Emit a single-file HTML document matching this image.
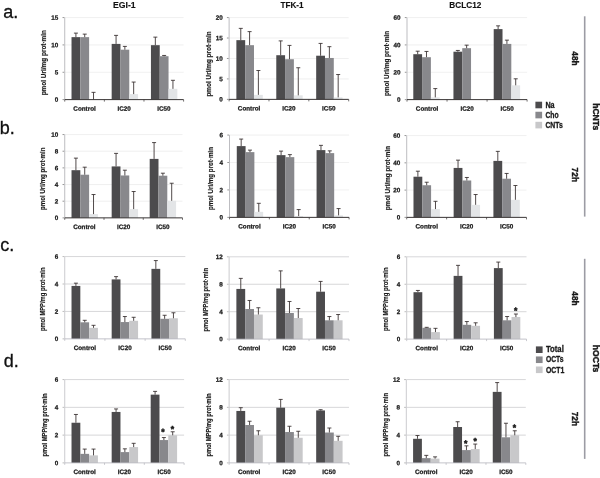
<!DOCTYPE html>
<html lang="en">
<head>
<meta charset="utf-8">
<title>Figure</title>
<style>
html,body{margin:0;padding:0;background:#fff;}
body{width:600px;height:478px;overflow:hidden;}
svg{display:block;}
text{font-family:"Liberation Sans",sans-serif;font-weight:bold;fill:#1a1a1a;stroke:#1a1a1a;stroke-width:0.15px;}
.tk{font-size:6.3px;stroke-width:0.25px;}
.ct{font-size:6.3px;stroke-width:0.25px;}
.yl{font-size:6.3px;}
.ti{font-size:9.2px;fill:#111;}
.pl{font-size:18px;font-weight:normal;fill:#111;stroke:#111;stroke-width:0.3px;}
.hr{font-size:8.4px;stroke-width:0.4px;}
.hg{font-size:8.6px;stroke-width:0.4px;}
.lg{font-size:8.2px;stroke-width:0.3px;}
.st{font-size:8.6px;stroke-width:0.5px;}
</style>
</head>
<body>
<svg width="600" height="478" viewBox="0 0 600 478">
<rect x="0" y="0" width="600" height="478" fill="#ffffff"/>
<g>
<line x1="64.74" y1="17.57" x2="183.6" y2="17.57" stroke="#e9e9e9" stroke-width="0.7"/>
<line x1="62.54" y1="17.57" x2="64.44" y2="17.57" stroke="#6a6a6a" stroke-width="0.7"/>
<text class="tk" transform="translate(58.34 19.82) rotate(0.03)" text-anchor="end">15</text>
<line x1="64.74" y1="44.92" x2="183.6" y2="44.92" stroke="#e9e9e9" stroke-width="0.7"/>
<line x1="62.54" y1="44.92" x2="64.44" y2="44.92" stroke="#6a6a6a" stroke-width="0.7"/>
<text class="tk" transform="translate(58.34 47.17) rotate(0.03)" text-anchor="end">10</text>
<line x1="64.74" y1="72.27" x2="183.6" y2="72.27" stroke="#e9e9e9" stroke-width="0.7"/>
<line x1="62.54" y1="72.27" x2="64.44" y2="72.27" stroke="#6a6a6a" stroke-width="0.7"/>
<text class="tk" transform="translate(58.34 74.52) rotate(0.03)" text-anchor="end">5</text>
<line x1="62.54" y1="99.62" x2="64.44" y2="99.62" stroke="#6a6a6a" stroke-width="0.7"/>
<text class="tk" transform="translate(58.34 101.87) rotate(0.03)" text-anchor="end">0</text>
<rect x="71.52" y="37.14" width="8.8" height="62.48" fill="#4c4b4d"/>
<path d="M75.92 37.14V33.12M73.92 33.12H77.92" stroke="#332a2a" stroke-width="0.85" fill="none"/>
<rect x="80.32" y="37.14" width="8.8" height="62.48" fill="#88888c"/>
<path d="M84.72 37.14V34.13M82.72 34.13H86.72" stroke="#332a2a" stroke-width="0.85" fill="none"/>
<path d="M93.52 99.62V92.35M91.52 92.35H95.52" stroke="#332a2a" stroke-width="0.85" fill="none"/>
<rect x="111.67" y="43.91" width="8.8" height="55.71" fill="#4c4b4d"/>
<path d="M116.07 43.91V35.38M114.07 35.38H118.07" stroke="#332a2a" stroke-width="0.85" fill="none"/>
<rect x="120.47" y="49.69" width="8.8" height="49.94" fill="#88888c"/>
<path d="M124.87 49.69V46.42M122.87 46.42H126.87" stroke="#332a2a" stroke-width="0.85" fill="none"/>
<rect x="129.27" y="94.1" width="8.8" height="5.52" fill="#e3e5e7"/>
<path d="M133.67 94.1V82.06M131.67 82.06H135.67" stroke="#332a2a" stroke-width="0.85" fill="none"/>
<rect x="150.94" y="45.17" width="8.8" height="54.45" fill="#4c4b4d"/>
<path d="M155.34 45.17V37.14M153.34 37.14H157.34" stroke="#332a2a" stroke-width="0.85" fill="none"/>
<rect x="159.74" y="56.21" width="8.8" height="43.41" fill="#88888c"/>
<path d="M164.14 56.21V55.46M162.14 55.46H166.14" stroke="#332a2a" stroke-width="0.85" fill="none"/>
<rect x="168.54" y="88.83" width="8.8" height="10.79" fill="#e3e5e7"/>
<path d="M172.94 88.83V80.3M170.94 80.3H174.94" stroke="#332a2a" stroke-width="0.85" fill="none"/>
<line x1="64.74" y1="17.57" x2="64.74" y2="99.62" stroke="#bdbdc1" stroke-width="1"/>
<line x1="64.74" y1="99.62" x2="183.6" y2="99.62" stroke="#383434" stroke-width="1"/>
<line x1="64.74" y1="99.62" x2="64.74" y2="101.62" stroke="#383434" stroke-width="0.7"/>
<line x1="104.36" y1="99.62" x2="104.36" y2="101.62" stroke="#383434" stroke-width="0.7"/>
<line x1="143.98" y1="99.62" x2="143.98" y2="101.62" stroke="#383434" stroke-width="0.7"/>
<line x1="183.6" y1="99.62" x2="183.6" y2="101.62" stroke="#383434" stroke-width="0.7"/>
<text class="ct" transform="translate(84.55 110.82) rotate(0.03)" text-anchor="middle">Control</text>
<text class="ct" transform="translate(124.17 110.82) rotate(0.03)" text-anchor="middle">IC20</text>
<text class="ct" transform="translate(163.79 110.82) rotate(0.03)" text-anchor="middle">IC50</text>
<text class="yl" transform="translate(46.4 95.3) rotate(-90)" textLength="65.3" lengthAdjust="spacingAndGlyphs">pmol Uri/mg prot·min</text>
</g>
<g>
<line x1="229.11" y1="17.57" x2="348.7" y2="17.57" stroke="#e9e9e9" stroke-width="0.7"/>
<line x1="226.91" y1="17.57" x2="228.81" y2="17.57" stroke="#6a6a6a" stroke-width="0.7"/>
<text class="tk" transform="translate(222.71 19.82) rotate(0.03)" text-anchor="end">20</text>
<line x1="229.11" y1="38.02" x2="348.7" y2="38.02" stroke="#e9e9e9" stroke-width="0.7"/>
<line x1="226.91" y1="38.02" x2="228.81" y2="38.02" stroke="#6a6a6a" stroke-width="0.7"/>
<text class="tk" transform="translate(222.71 40.27) rotate(0.03)" text-anchor="end">15</text>
<line x1="229.11" y1="58.47" x2="348.7" y2="58.47" stroke="#e9e9e9" stroke-width="0.7"/>
<line x1="226.91" y1="58.47" x2="228.81" y2="58.47" stroke="#6a6a6a" stroke-width="0.7"/>
<text class="tk" transform="translate(222.71 60.72) rotate(0.03)" text-anchor="end">10</text>
<line x1="229.11" y1="78.92" x2="348.7" y2="78.92" stroke="#e9e9e9" stroke-width="0.7"/>
<line x1="226.91" y1="78.92" x2="228.81" y2="78.92" stroke="#6a6a6a" stroke-width="0.7"/>
<text class="tk" transform="translate(222.71 81.17) rotate(0.03)" text-anchor="end">5</text>
<line x1="226.91" y1="99.37" x2="228.81" y2="99.37" stroke="#6a6a6a" stroke-width="0.7"/>
<text class="tk" transform="translate(222.71 101.62) rotate(0.03)" text-anchor="end">0</text>
<rect x="236.38" y="40.15" width="8.8" height="59.22" fill="#4c4b4d"/>
<path d="M240.78 40.15V28.36M238.78 28.36H242.78" stroke="#332a2a" stroke-width="0.85" fill="none"/>
<rect x="245.18" y="45.17" width="8.8" height="54.2" fill="#88888c"/>
<path d="M249.58 45.17V31.62M247.58 31.62H251.58" stroke="#332a2a" stroke-width="0.85" fill="none"/>
<rect x="253.98" y="94.86" width="8.8" height="4.52" fill="#e3e5e7"/>
<path d="M258.38 94.86V70.51M256.38 70.51H260.38" stroke="#332a2a" stroke-width="0.85" fill="none"/>
<rect x="276.28" y="55.21" width="8.8" height="44.17" fill="#4c4b4d"/>
<path d="M280.68 55.21V40.9M278.68 40.9H282.68" stroke="#332a2a" stroke-width="0.85" fill="none"/>
<rect x="285.08" y="59.22" width="8.8" height="40.15" fill="#88888c"/>
<path d="M289.48 59.22V45.42M287.48 45.42H291.48" stroke="#332a2a" stroke-width="0.85" fill="none"/>
<rect x="293.88" y="95.36" width="8.8" height="4.02" fill="#e3e5e7"/>
<path d="M298.28 95.36V67.75M296.28 67.75H300.28" stroke="#332a2a" stroke-width="0.85" fill="none"/>
<rect x="316.18" y="55.71" width="8.8" height="43.66" fill="#4c4b4d"/>
<path d="M320.58 55.71V43.41M318.58 43.41H322.58" stroke="#332a2a" stroke-width="0.85" fill="none"/>
<rect x="324.98" y="57.97" width="8.8" height="41.41" fill="#88888c"/>
<path d="M329.38 57.97V46.68M327.38 46.68H331.38" stroke="#332a2a" stroke-width="0.85" fill="none"/>
<rect x="333.78" y="97.37" width="8.8" height="2.01" fill="#e3e5e7"/>
<path d="M338.18 97.37V74.53M336.18 74.53H340.18" stroke="#332a2a" stroke-width="0.85" fill="none"/>
<line x1="229.11" y1="17.57" x2="229.11" y2="99.37" stroke="#bdbdc1" stroke-width="1"/>
<line x1="229.11" y1="99.37" x2="348.7" y2="99.37" stroke="#383434" stroke-width="1"/>
<line x1="229.11" y1="99.37" x2="229.11" y2="101.37" stroke="#383434" stroke-width="0.7"/>
<line x1="268.97" y1="99.37" x2="268.97" y2="101.37" stroke="#383434" stroke-width="0.7"/>
<line x1="308.84" y1="99.37" x2="308.84" y2="101.37" stroke="#383434" stroke-width="0.7"/>
<line x1="348.7" y1="99.37" x2="348.7" y2="101.37" stroke="#383434" stroke-width="0.7"/>
<text class="ct" transform="translate(249.04 110.57) rotate(0.03)" text-anchor="middle">Control</text>
<text class="ct" transform="translate(288.9 110.57) rotate(0.03)" text-anchor="middle">IC20</text>
<text class="ct" transform="translate(328.77 110.57) rotate(0.03)" text-anchor="middle">IC50</text>
<text class="yl" transform="translate(210.9 96.6) rotate(-90)" textLength="65.2" lengthAdjust="spacingAndGlyphs">pmol Uri/mg prot·min</text>
</g>
<g>
<line x1="407.01" y1="17.57" x2="527.1" y2="17.57" stroke="#e9e9e9" stroke-width="0.7"/>
<line x1="404.81" y1="17.57" x2="406.71" y2="17.57" stroke="#6a6a6a" stroke-width="0.7"/>
<text class="tk" transform="translate(400.61 19.82) rotate(0.03)" text-anchor="end">60</text>
<line x1="407.01" y1="44.92" x2="527.1" y2="44.92" stroke="#e9e9e9" stroke-width="0.7"/>
<line x1="404.81" y1="44.92" x2="406.71" y2="44.92" stroke="#6a6a6a" stroke-width="0.7"/>
<text class="tk" transform="translate(400.61 47.17) rotate(0.03)" text-anchor="end">40</text>
<line x1="407.01" y1="72.27" x2="527.1" y2="72.27" stroke="#e9e9e9" stroke-width="0.7"/>
<line x1="404.81" y1="72.27" x2="406.71" y2="72.27" stroke="#6a6a6a" stroke-width="0.7"/>
<text class="tk" transform="translate(400.61 74.52) rotate(0.03)" text-anchor="end">20</text>
<line x1="404.81" y1="99.62" x2="406.71" y2="99.62" stroke="#6a6a6a" stroke-width="0.7"/>
<text class="tk" transform="translate(400.61 101.87) rotate(0.03)" text-anchor="end">0</text>
<rect x="413.29" y="54.2" width="8.8" height="45.42" fill="#4c4b4d"/>
<path d="M417.69 54.2V51.19M415.69 51.19H419.69" stroke="#332a2a" stroke-width="0.85" fill="none"/>
<rect x="422.09" y="57.21" width="8.8" height="42.41" fill="#88888c"/>
<path d="M426.49 57.21V51.44M424.49 51.44H428.49" stroke="#332a2a" stroke-width="0.85" fill="none"/>
<rect x="430.89" y="97.37" width="8.8" height="2.26" fill="#e3e5e7"/>
<path d="M435.29 97.37V88.58M433.29 88.58H437.29" stroke="#332a2a" stroke-width="0.85" fill="none"/>
<rect x="453.44" y="51.69" width="8.8" height="47.93" fill="#4c4b4d"/>
<path d="M457.84 51.69V50.44M455.84 50.44H459.84" stroke="#332a2a" stroke-width="0.85" fill="none"/>
<rect x="462.24" y="48.18" width="8.8" height="51.44" fill="#88888c"/>
<path d="M466.64 48.18V45.17M464.64 45.17H468.64" stroke="#332a2a" stroke-width="0.85" fill="none"/>
<rect x="493.71" y="29.11" width="8.8" height="70.51" fill="#4c4b4d"/>
<path d="M498.11 29.11V25.85M496.11 25.85H500.11" stroke="#332a2a" stroke-width="0.85" fill="none"/>
<rect x="502.51" y="43.91" width="8.8" height="55.71" fill="#88888c"/>
<path d="M506.91 43.91V40.15M504.91 40.15H508.91" stroke="#332a2a" stroke-width="0.85" fill="none"/>
<rect x="511.31" y="85.32" width="8.8" height="14.3" fill="#e3e5e7"/>
<path d="M515.71 85.32V78.8M513.71 78.8H517.71" stroke="#332a2a" stroke-width="0.85" fill="none"/>
<line x1="407.01" y1="17.57" x2="407.01" y2="99.62" stroke="#bdbdc1" stroke-width="1"/>
<line x1="407.01" y1="99.62" x2="527.1" y2="99.62" stroke="#383434" stroke-width="1"/>
<line x1="407.01" y1="99.62" x2="407.01" y2="101.62" stroke="#383434" stroke-width="0.7"/>
<line x1="447.04" y1="99.62" x2="447.04" y2="101.62" stroke="#383434" stroke-width="0.7"/>
<line x1="487.07" y1="99.62" x2="487.07" y2="101.62" stroke="#383434" stroke-width="0.7"/>
<line x1="527.1" y1="99.62" x2="527.1" y2="101.62" stroke="#383434" stroke-width="0.7"/>
<text class="ct" transform="translate(427.03 110.82) rotate(0.03)" text-anchor="middle">Control</text>
<text class="ct" transform="translate(467.06 110.82) rotate(0.03)" text-anchor="middle">IC20</text>
<text class="ct" transform="translate(507.09 110.82) rotate(0.03)" text-anchor="middle">IC50</text>
<text class="yl" transform="translate(388.9 96.1) rotate(-90)" textLength="65.2" lengthAdjust="spacingAndGlyphs">pmol Uri/mg prot·min</text>
</g>
<g>
<line x1="64.74" y1="134.55" x2="182.5" y2="134.55" stroke="#e9e9e9" stroke-width="0.7"/>
<line x1="62.54" y1="134.55" x2="64.44" y2="134.55" stroke="#6a6a6a" stroke-width="0.7"/>
<text class="tk" transform="translate(58.34 136.8) rotate(0.03)" text-anchor="end">10</text>
<line x1="64.74" y1="151.22" x2="182.5" y2="151.22" stroke="#e9e9e9" stroke-width="0.7"/>
<line x1="62.54" y1="151.22" x2="64.44" y2="151.22" stroke="#6a6a6a" stroke-width="0.7"/>
<text class="tk" transform="translate(58.34 153.47) rotate(0.03)" text-anchor="end">8</text>
<line x1="64.74" y1="167.88" x2="182.5" y2="167.88" stroke="#e9e9e9" stroke-width="0.7"/>
<line x1="62.54" y1="167.88" x2="64.44" y2="167.88" stroke="#6a6a6a" stroke-width="0.7"/>
<text class="tk" transform="translate(58.34 170.13) rotate(0.03)" text-anchor="end">6</text>
<line x1="64.74" y1="184.54" x2="182.5" y2="184.54" stroke="#e9e9e9" stroke-width="0.7"/>
<line x1="62.54" y1="184.54" x2="64.44" y2="184.54" stroke="#6a6a6a" stroke-width="0.7"/>
<text class="tk" transform="translate(58.34 186.79) rotate(0.03)" text-anchor="end">4</text>
<line x1="64.74" y1="201.2" x2="182.5" y2="201.2" stroke="#e9e9e9" stroke-width="0.7"/>
<line x1="62.54" y1="201.2" x2="64.44" y2="201.2" stroke="#6a6a6a" stroke-width="0.7"/>
<text class="tk" transform="translate(58.34 203.45) rotate(0.03)" text-anchor="end">2</text>
<line x1="62.54" y1="217.87" x2="64.44" y2="217.87" stroke="#6a6a6a" stroke-width="0.7"/>
<text class="tk" transform="translate(58.34 220.12) rotate(0.03)" text-anchor="end">0</text>
<rect x="71.52" y="170.19" width="8.8" height="47.68" fill="#4c4b4d"/>
<path d="M75.92 170.19V158.14M73.92 158.14H77.92" stroke="#332a2a" stroke-width="0.85" fill="none"/>
<rect x="80.32" y="174.71" width="8.8" height="43.16" fill="#88888c"/>
<path d="M84.72 174.71V167.18M82.72 167.18H86.72" stroke="#332a2a" stroke-width="0.85" fill="none"/>
<rect x="89.12" y="214.1" width="8.8" height="3.76" fill="#e3e5e7"/>
<path d="M93.52 214.1V194.53M91.52 194.53H95.52" stroke="#332a2a" stroke-width="0.85" fill="none"/>
<rect x="111.67" y="166.42" width="8.8" height="51.44" fill="#4c4b4d"/>
<path d="M116.07 166.42V153.38M114.07 153.38H118.07" stroke="#332a2a" stroke-width="0.85" fill="none"/>
<rect x="120.47" y="175.46" width="8.8" height="42.41" fill="#88888c"/>
<path d="M124.87 175.46V170.19M122.87 170.19H126.87" stroke="#332a2a" stroke-width="0.85" fill="none"/>
<rect x="129.27" y="209.08" width="8.8" height="8.78" fill="#e3e5e7"/>
<path d="M133.67 209.08V191.52M131.67 191.52H135.67" stroke="#332a2a" stroke-width="0.85" fill="none"/>
<rect x="149.69" y="158.9" width="8.8" height="58.97" fill="#4c4b4d"/>
<path d="M154.09 158.9V142.58M152.09 142.58H156.09" stroke="#332a2a" stroke-width="0.85" fill="none"/>
<rect x="158.49" y="175.71" width="8.8" height="42.16" fill="#88888c"/>
<path d="M162.89 175.71V173.2M160.89 173.2H164.89" stroke="#332a2a" stroke-width="0.85" fill="none"/>
<rect x="167.29" y="200.8" width="8.8" height="17.06" fill="#e3e5e7"/>
<path d="M171.69 200.8V183.24M169.69 183.24H173.69" stroke="#332a2a" stroke-width="0.85" fill="none"/>
<line x1="64.74" y1="134.55" x2="64.74" y2="217.87" stroke="#bdbdc1" stroke-width="1"/>
<line x1="64.74" y1="217.87" x2="182.5" y2="217.87" stroke="#383434" stroke-width="1"/>
<line x1="64.74" y1="217.87" x2="64.74" y2="219.87" stroke="#383434" stroke-width="0.7"/>
<line x1="104" y1="217.87" x2="104" y2="219.87" stroke="#383434" stroke-width="0.7"/>
<line x1="143.25" y1="217.87" x2="143.25" y2="219.87" stroke="#383434" stroke-width="0.7"/>
<line x1="182.5" y1="217.87" x2="182.5" y2="219.87" stroke="#383434" stroke-width="0.7"/>
<text class="ct" transform="translate(84.37 229.07) rotate(0.03)" text-anchor="middle">Control</text>
<text class="ct" transform="translate(123.62 229.07) rotate(0.03)" text-anchor="middle">IC20</text>
<text class="ct" transform="translate(162.87 229.07) rotate(0.03)" text-anchor="middle">IC50</text>
<text class="yl" transform="translate(44.6 210) rotate(-90)" textLength="62.5" lengthAdjust="spacingAndGlyphs">pmol Uri/mg prot·min</text>
</g>
<g>
<line x1="229.51" y1="135.06" x2="349.1" y2="135.06" stroke="#e9e9e9" stroke-width="0.7"/>
<line x1="227.31" y1="135.06" x2="229.21" y2="135.06" stroke="#6a6a6a" stroke-width="0.7"/>
<text class="tk" transform="translate(223.11 137.31) rotate(0.03)" text-anchor="end">6</text>
<line x1="229.51" y1="162.49" x2="349.1" y2="162.49" stroke="#e9e9e9" stroke-width="0.7"/>
<line x1="227.31" y1="162.49" x2="229.21" y2="162.49" stroke="#6a6a6a" stroke-width="0.7"/>
<text class="tk" transform="translate(223.11 164.74) rotate(0.03)" text-anchor="end">4</text>
<line x1="229.51" y1="189.93" x2="349.1" y2="189.93" stroke="#e9e9e9" stroke-width="0.7"/>
<line x1="227.31" y1="189.93" x2="229.21" y2="189.93" stroke="#6a6a6a" stroke-width="0.7"/>
<text class="tk" transform="translate(223.11 192.18) rotate(0.03)" text-anchor="end">2</text>
<line x1="227.31" y1="217.37" x2="229.21" y2="217.37" stroke="#6a6a6a" stroke-width="0.7"/>
<text class="tk" transform="translate(223.11 219.62) rotate(0.03)" text-anchor="end">0</text>
<rect x="236.78" y="146.1" width="8.8" height="71.27" fill="#4c4b4d"/>
<path d="M241.18 146.1V139.07M239.18 139.07H243.18" stroke="#332a2a" stroke-width="0.85" fill="none"/>
<rect x="245.58" y="152.12" width="8.8" height="65.24" fill="#88888c"/>
<path d="M249.98 152.12V150.11M247.98 150.11H251.98" stroke="#332a2a" stroke-width="0.85" fill="none"/>
<rect x="254.38" y="211.84" width="8.8" height="5.52" fill="#e3e5e7"/>
<path d="M258.78 211.84V203.31M256.78 203.31H260.78" stroke="#332a2a" stroke-width="0.85" fill="none"/>
<rect x="276.68" y="155.13" width="8.8" height="62.23" fill="#4c4b4d"/>
<path d="M281.08 155.13V151.12M279.08 151.12H283.08" stroke="#332a2a" stroke-width="0.85" fill="none"/>
<rect x="285.48" y="157.14" width="8.8" height="60.23" fill="#88888c"/>
<path d="M289.88 157.14V154.63M287.88 154.63H291.88" stroke="#332a2a" stroke-width="0.85" fill="none"/>
<rect x="294.28" y="216.11" width="8.8" height="1.25" fill="#e3e5e7"/>
<path d="M298.68 216.11V209.59M296.68 209.59H300.68" stroke="#332a2a" stroke-width="0.85" fill="none"/>
<rect x="316.58" y="150.11" width="8.8" height="67.25" fill="#4c4b4d"/>
<path d="M320.98 150.11V145.35M318.98 145.35H322.98" stroke="#332a2a" stroke-width="0.85" fill="none"/>
<rect x="325.38" y="153.12" width="8.8" height="64.24" fill="#88888c"/>
<path d="M329.78 153.12V150.87M327.78 150.87H331.78" stroke="#332a2a" stroke-width="0.85" fill="none"/>
<rect x="334.18" y="215.36" width="8.8" height="2.01" fill="#e3e5e7"/>
<path d="M338.58 215.36V208.58M336.58 208.58H340.58" stroke="#332a2a" stroke-width="0.85" fill="none"/>
<line x1="229.51" y1="135.06" x2="229.51" y2="217.37" stroke="#bdbdc1" stroke-width="1"/>
<line x1="229.51" y1="217.37" x2="349.1" y2="217.37" stroke="#383434" stroke-width="1"/>
<line x1="229.51" y1="217.37" x2="229.51" y2="219.37" stroke="#383434" stroke-width="0.7"/>
<line x1="269.37" y1="217.37" x2="269.37" y2="219.37" stroke="#383434" stroke-width="0.7"/>
<line x1="309.24" y1="217.37" x2="309.24" y2="219.37" stroke="#383434" stroke-width="0.7"/>
<line x1="349.1" y1="217.37" x2="349.1" y2="219.37" stroke="#383434" stroke-width="0.7"/>
<text class="ct" transform="translate(249.44 228.57) rotate(0.03)" text-anchor="middle">Control</text>
<text class="ct" transform="translate(289.3 228.57) rotate(0.03)" text-anchor="middle">IC20</text>
<text class="ct" transform="translate(329.17 228.57) rotate(0.03)" text-anchor="middle">IC50</text>
<text class="yl" transform="translate(212.6 210) rotate(-90)" textLength="63" lengthAdjust="spacingAndGlyphs">pmol Uri/mg prot·min</text>
</g>
<g>
<line x1="406.71" y1="135.56" x2="526.5" y2="135.56" stroke="#e9e9e9" stroke-width="0.7"/>
<line x1="404.51" y1="135.56" x2="406.41" y2="135.56" stroke="#6a6a6a" stroke-width="0.7"/>
<text class="tk" transform="translate(400.31 137.81) rotate(0.03)" text-anchor="end">60</text>
<line x1="406.71" y1="162.83" x2="526.5" y2="162.83" stroke="#e9e9e9" stroke-width="0.7"/>
<line x1="404.51" y1="162.83" x2="406.41" y2="162.83" stroke="#6a6a6a" stroke-width="0.7"/>
<text class="tk" transform="translate(400.31 165.08) rotate(0.03)" text-anchor="end">40</text>
<line x1="406.71" y1="190.1" x2="526.5" y2="190.1" stroke="#e9e9e9" stroke-width="0.7"/>
<line x1="404.51" y1="190.1" x2="406.41" y2="190.1" stroke="#6a6a6a" stroke-width="0.7"/>
<text class="tk" transform="translate(400.31 192.35) rotate(0.03)" text-anchor="end">20</text>
<line x1="404.51" y1="217.37" x2="406.41" y2="217.37" stroke="#6a6a6a" stroke-width="0.7"/>
<text class="tk" transform="translate(400.31 219.62) rotate(0.03)" text-anchor="end">0</text>
<rect x="413.49" y="176.71" width="8.8" height="40.65" fill="#4c4b4d"/>
<path d="M417.89 176.71V171.19M415.89 171.19H419.89" stroke="#332a2a" stroke-width="0.85" fill="none"/>
<rect x="422.29" y="185.24" width="8.8" height="32.12" fill="#88888c"/>
<path d="M426.69 185.24V182.23M424.69 182.23H428.69" stroke="#332a2a" stroke-width="0.85" fill="none"/>
<rect x="431.09" y="209.08" width="8.8" height="8.28" fill="#e3e5e7"/>
<path d="M435.49 209.08V201.3M433.49 201.3H437.49" stroke="#332a2a" stroke-width="0.85" fill="none"/>
<rect x="453.64" y="167.93" width="8.8" height="49.44" fill="#4c4b4d"/>
<path d="M458.04 167.93V160.15M456.04 160.15H460.04" stroke="#332a2a" stroke-width="0.85" fill="none"/>
<rect x="462.44" y="180.48" width="8.8" height="36.89" fill="#88888c"/>
<path d="M466.84 180.48V177.47M464.84 177.47H468.84" stroke="#332a2a" stroke-width="0.85" fill="none"/>
<rect x="471.24" y="204.82" width="8.8" height="12.55" fill="#e3e5e7"/>
<path d="M475.64 204.82V194.53M473.64 194.53H477.64" stroke="#332a2a" stroke-width="0.85" fill="none"/>
<rect x="493.41" y="160.9" width="8.8" height="56.46" fill="#4c4b4d"/>
<path d="M497.81 160.9V151.37M495.81 151.37H499.81" stroke="#332a2a" stroke-width="0.85" fill="none"/>
<rect x="502.21" y="178.72" width="8.8" height="38.64" fill="#88888c"/>
<path d="M506.61 178.72V173.45M504.61 173.45H508.61" stroke="#332a2a" stroke-width="0.85" fill="none"/>
<rect x="511.01" y="199.8" width="8.8" height="17.57" fill="#e3e5e7"/>
<path d="M515.41 199.8V185.5M513.41 185.5H517.41" stroke="#332a2a" stroke-width="0.85" fill="none"/>
<line x1="406.71" y1="135.56" x2="406.71" y2="217.37" stroke="#bdbdc1" stroke-width="1"/>
<line x1="406.71" y1="217.37" x2="526.5" y2="217.37" stroke="#383434" stroke-width="1"/>
<line x1="406.71" y1="217.37" x2="406.71" y2="219.37" stroke="#383434" stroke-width="0.7"/>
<line x1="446.64" y1="217.37" x2="446.64" y2="219.37" stroke="#383434" stroke-width="0.7"/>
<line x1="486.57" y1="217.37" x2="486.57" y2="219.37" stroke="#383434" stroke-width="0.7"/>
<line x1="526.5" y1="217.37" x2="526.5" y2="219.37" stroke="#383434" stroke-width="0.7"/>
<text class="ct" transform="translate(426.68 228.57) rotate(0.03)" text-anchor="middle">Control</text>
<text class="ct" transform="translate(466.61 228.57) rotate(0.03)" text-anchor="middle">IC20</text>
<text class="ct" transform="translate(506.54 228.57) rotate(0.03)" text-anchor="middle">IC50</text>
<text class="yl" transform="translate(390.1 210.3) rotate(-90)" textLength="64.4" lengthAdjust="spacingAndGlyphs">pmol Uri/mg prot·min</text>
</g>
<g>
<line x1="64.74" y1="256.56" x2="185.3" y2="256.56" stroke="#bcbcc0" stroke-width="0.6"/>
<line x1="62.54" y1="256.56" x2="64.44" y2="256.56" stroke="#a0a0a0" stroke-width="0.7"/>
<text class="tk" transform="translate(58.34 258.81) rotate(0.03)" text-anchor="end">6</text>
<line x1="64.74" y1="284" x2="185.3" y2="284" stroke="#bcbcc0" stroke-width="0.6"/>
<line x1="62.54" y1="284" x2="64.44" y2="284" stroke="#a0a0a0" stroke-width="0.7"/>
<text class="tk" transform="translate(58.34 286.25) rotate(0.03)" text-anchor="end">4</text>
<line x1="64.74" y1="311.43" x2="185.3" y2="311.43" stroke="#bcbcc0" stroke-width="0.6"/>
<line x1="62.54" y1="311.43" x2="64.44" y2="311.43" stroke="#a0a0a0" stroke-width="0.7"/>
<text class="tk" transform="translate(58.34 313.68) rotate(0.03)" text-anchor="end">2</text>
<line x1="62.54" y1="338.87" x2="64.44" y2="338.87" stroke="#a0a0a0" stroke-width="0.7"/>
<text class="tk" transform="translate(58.34 341.12) rotate(0.03)" text-anchor="end">0</text>
<rect x="71.52" y="285.92" width="8.8" height="52.95" fill="#4c4b4d"/>
<path d="M75.92 285.92V283.16M73.92 283.16H77.92" stroke="#332a2a" stroke-width="0.85" fill="none"/>
<rect x="80.32" y="322.31" width="8.8" height="16.56" fill="#88888c"/>
<path d="M84.72 322.31V320.3M82.72 320.3H86.72" stroke="#332a2a" stroke-width="0.85" fill="none"/>
<rect x="89.12" y="327.83" width="8.8" height="11.04" fill="#c8c8ca"/>
<path d="M93.52 327.83V325.32M91.52 325.32H95.52" stroke="#332a2a" stroke-width="0.85" fill="none"/>
<rect x="111.67" y="279.4" width="8.8" height="59.47" fill="#4c4b4d"/>
<path d="M116.07 279.4V276.64M114.07 276.64H118.07" stroke="#332a2a" stroke-width="0.85" fill="none"/>
<rect x="120.47" y="322.06" width="8.8" height="16.81" fill="#88888c"/>
<path d="M124.87 322.06V316.54M122.87 316.54H126.87" stroke="#332a2a" stroke-width="0.85" fill="none"/>
<rect x="129.27" y="320.8" width="8.8" height="18.07" fill="#c8c8ca"/>
<path d="M133.67 320.8V317.29M131.67 317.29H135.67" stroke="#332a2a" stroke-width="0.85" fill="none"/>
<rect x="151.44" y="268.86" width="8.8" height="70.01" fill="#4c4b4d"/>
<path d="M155.84 268.86V260.58M153.84 260.58H157.84" stroke="#332a2a" stroke-width="0.85" fill="none"/>
<rect x="160.24" y="318.8" width="8.8" height="20.08" fill="#88888c"/>
<path d="M164.64 318.8V315.28M162.64 315.28H166.64" stroke="#332a2a" stroke-width="0.85" fill="none"/>
<rect x="169.04" y="318.29" width="8.8" height="20.58" fill="#c8c8ca"/>
<path d="M173.44 318.29V312.77M171.44 312.77H175.44" stroke="#332a2a" stroke-width="0.85" fill="none"/>
<line x1="64.74" y1="256.56" x2="64.74" y2="338.87" stroke="#cbcbcf" stroke-width="1"/>
<line x1="64.74" y1="338.87" x2="185.3" y2="338.87" stroke="#b4b4bc" stroke-width="0.8"/>
<line x1="64.74" y1="338.87" x2="64.74" y2="340.87" stroke="#b4b4bc" stroke-width="0.7"/>
<line x1="104.93" y1="338.87" x2="104.93" y2="340.87" stroke="#b4b4bc" stroke-width="0.7"/>
<line x1="145.11" y1="338.87" x2="145.11" y2="340.87" stroke="#b4b4bc" stroke-width="0.7"/>
<line x1="185.3" y1="338.87" x2="185.3" y2="340.87" stroke="#b4b4bc" stroke-width="0.7"/>
<text class="ct" transform="translate(84.84 350.07) rotate(0.03)" text-anchor="middle">Control</text>
<text class="ct" transform="translate(125.02 350.07) rotate(0.03)" text-anchor="middle">IC20</text>
<text class="ct" transform="translate(165.21 350.07) rotate(0.03)" text-anchor="middle">IC50</text>
<text class="yl" transform="translate(45.1 331.1) rotate(-90)" textLength="63.6" lengthAdjust="spacingAndGlyphs">pmol MPP/mg prot·min</text>
</g>
<g>
<line x1="229.11" y1="256.81" x2="349" y2="256.81" stroke="#bcbcc0" stroke-width="0.6"/>
<line x1="226.91" y1="256.81" x2="228.81" y2="256.81" stroke="#a0a0a0" stroke-width="0.7"/>
<text class="tk" transform="translate(222.71 259.06) rotate(0.03)" text-anchor="end">12</text>
<line x1="229.11" y1="284.25" x2="349" y2="284.25" stroke="#bcbcc0" stroke-width="0.6"/>
<line x1="226.91" y1="284.25" x2="228.81" y2="284.25" stroke="#a0a0a0" stroke-width="0.7"/>
<text class="tk" transform="translate(222.71 286.5) rotate(0.03)" text-anchor="end">8</text>
<line x1="229.11" y1="311.69" x2="349" y2="311.69" stroke="#bcbcc0" stroke-width="0.6"/>
<line x1="226.91" y1="311.69" x2="228.81" y2="311.69" stroke="#a0a0a0" stroke-width="0.7"/>
<text class="tk" transform="translate(222.71 313.94) rotate(0.03)" text-anchor="end">4</text>
<line x1="226.91" y1="339.12" x2="228.81" y2="339.12" stroke="#a0a0a0" stroke-width="0.7"/>
<text class="tk" transform="translate(222.71 341.37) rotate(0.03)" text-anchor="end">0</text>
<rect x="236.38" y="288.93" width="8.8" height="50.19" fill="#4c4b4d"/>
<path d="M240.78 288.93V278.39M238.78 278.39H242.78" stroke="#332a2a" stroke-width="0.85" fill="none"/>
<rect x="245.18" y="309.01" width="8.8" height="30.11" fill="#88888c"/>
<path d="M249.58 309.01V300.48M247.58 300.48H251.58" stroke="#332a2a" stroke-width="0.85" fill="none"/>
<rect x="253.98" y="314.53" width="8.8" height="24.59" fill="#c8c8ca"/>
<path d="M258.38 314.53V307.75M256.38 307.75H260.38" stroke="#332a2a" stroke-width="0.85" fill="none"/>
<rect x="276.28" y="288.43" width="8.8" height="50.69" fill="#4c4b4d"/>
<path d="M280.68 288.43V270.87M278.68 270.87H282.68" stroke="#332a2a" stroke-width="0.85" fill="none"/>
<rect x="285.08" y="313.02" width="8.8" height="26.1" fill="#88888c"/>
<path d="M289.48 313.02V301.48M287.48 301.48H291.48" stroke="#332a2a" stroke-width="0.85" fill="none"/>
<rect x="293.88" y="318.04" width="8.8" height="21.08" fill="#c8c8ca"/>
<path d="M298.28 318.04V308.51M296.28 308.51H300.28" stroke="#332a2a" stroke-width="0.85" fill="none"/>
<rect x="316.18" y="291.69" width="8.8" height="47.43" fill="#4c4b4d"/>
<path d="M320.58 291.69V281.41M318.58 281.41H322.58" stroke="#332a2a" stroke-width="0.85" fill="none"/>
<rect x="324.98" y="320.3" width="8.8" height="18.82" fill="#88888c"/>
<path d="M329.38 320.3V316.54M327.38 316.54H331.38" stroke="#332a2a" stroke-width="0.85" fill="none"/>
<rect x="333.78" y="320.3" width="8.8" height="18.82" fill="#c8c8ca"/>
<path d="M338.18 320.3V314.53M336.18 314.53H340.18" stroke="#332a2a" stroke-width="0.85" fill="none"/>
<line x1="229.11" y1="256.81" x2="229.11" y2="339.12" stroke="#cbcbcf" stroke-width="1"/>
<line x1="229.11" y1="339.12" x2="349" y2="339.12" stroke="#b4b4bc" stroke-width="0.8"/>
<line x1="229.11" y1="339.12" x2="229.11" y2="341.12" stroke="#b4b4bc" stroke-width="0.7"/>
<line x1="269.07" y1="339.12" x2="269.07" y2="341.12" stroke="#b4b4bc" stroke-width="0.7"/>
<line x1="309.04" y1="339.12" x2="309.04" y2="341.12" stroke="#b4b4bc" stroke-width="0.7"/>
<line x1="349" y1="339.12" x2="349" y2="341.12" stroke="#b4b4bc" stroke-width="0.7"/>
<text class="ct" transform="translate(249.09 350.32) rotate(0.03)" text-anchor="middle">Control</text>
<text class="ct" transform="translate(289.05 350.32) rotate(0.03)" text-anchor="middle">IC20</text>
<text class="ct" transform="translate(329.02 350.32) rotate(0.03)" text-anchor="middle">IC50</text>
<text class="yl" transform="translate(207.6 331.6) rotate(-90)" textLength="63.6" lengthAdjust="spacingAndGlyphs">pmol MPP/mg prot·min</text>
</g>
<g>
<line x1="406.71" y1="256.81" x2="526.5" y2="256.81" stroke="#bcbcc0" stroke-width="0.6"/>
<line x1="404.51" y1="256.81" x2="406.41" y2="256.81" stroke="#a0a0a0" stroke-width="0.7"/>
<text class="tk" transform="translate(400.31 259.06) rotate(0.03)" text-anchor="end">6</text>
<line x1="406.71" y1="284.25" x2="526.5" y2="284.25" stroke="#bcbcc0" stroke-width="0.6"/>
<line x1="404.51" y1="284.25" x2="406.41" y2="284.25" stroke="#a0a0a0" stroke-width="0.7"/>
<text class="tk" transform="translate(400.31 286.5) rotate(0.03)" text-anchor="end">4</text>
<line x1="406.71" y1="311.69" x2="526.5" y2="311.69" stroke="#bcbcc0" stroke-width="0.6"/>
<line x1="404.51" y1="311.69" x2="406.41" y2="311.69" stroke="#a0a0a0" stroke-width="0.7"/>
<text class="tk" transform="translate(400.31 313.94) rotate(0.03)" text-anchor="end">2</text>
<line x1="404.51" y1="339.12" x2="406.41" y2="339.12" stroke="#a0a0a0" stroke-width="0.7"/>
<text class="tk" transform="translate(400.31 341.37) rotate(0.03)" text-anchor="end">0</text>
<rect x="413.49" y="292.2" width="8.8" height="46.93" fill="#4c4b4d"/>
<path d="M417.89 292.2V290.44M415.89 290.44H419.89" stroke="#332a2a" stroke-width="0.85" fill="none"/>
<rect x="422.29" y="327.83" width="8.8" height="11.29" fill="#88888c"/>
<path d="M426.69 327.83V327.33M424.69 327.33H428.69" stroke="#332a2a" stroke-width="0.85" fill="none"/>
<rect x="431.09" y="332.1" width="8.8" height="7.03" fill="#c8c8ca"/>
<path d="M435.49 332.1V328.33M433.49 328.33H437.49" stroke="#332a2a" stroke-width="0.85" fill="none"/>
<rect x="453.64" y="275.88" width="8.8" height="63.24" fill="#4c4b4d"/>
<path d="M458.04 275.88V265.35M456.04 265.35H460.04" stroke="#332a2a" stroke-width="0.85" fill="none"/>
<rect x="462.44" y="324.82" width="8.8" height="14.3" fill="#88888c"/>
<path d="M466.84 324.82V321.56M464.84 321.56H468.84" stroke="#332a2a" stroke-width="0.85" fill="none"/>
<rect x="471.24" y="325.82" width="8.8" height="13.3" fill="#c8c8ca"/>
<path d="M475.64 325.82V322.81M473.64 322.81H477.64" stroke="#332a2a" stroke-width="0.85" fill="none"/>
<rect x="493.91" y="268.11" width="8.8" height="71.02" fill="#4c4b4d"/>
<path d="M498.31 268.11V262.08M496.31 262.08H500.31" stroke="#332a2a" stroke-width="0.85" fill="none"/>
<rect x="502.71" y="320.3" width="8.8" height="18.82" fill="#88888c"/>
<path d="M507.11 320.3V316.54M505.11 316.54H509.11" stroke="#332a2a" stroke-width="0.85" fill="none"/>
<rect x="511.51" y="317.04" width="8.8" height="22.08" fill="#c8c8ca"/>
<path d="M515.91 317.04V314.03M513.91 314.03H517.91" stroke="#332a2a" stroke-width="0.85" fill="none"/>
<line x1="406.71" y1="256.81" x2="406.71" y2="339.12" stroke="#cbcbcf" stroke-width="1"/>
<line x1="406.71" y1="339.12" x2="526.5" y2="339.12" stroke="#b4b4bc" stroke-width="0.8"/>
<line x1="406.71" y1="339.12" x2="406.71" y2="341.12" stroke="#b4b4bc" stroke-width="0.7"/>
<line x1="446.64" y1="339.12" x2="446.64" y2="341.12" stroke="#b4b4bc" stroke-width="0.7"/>
<line x1="486.57" y1="339.12" x2="486.57" y2="341.12" stroke="#b4b4bc" stroke-width="0.7"/>
<line x1="526.5" y1="339.12" x2="526.5" y2="341.12" stroke="#b4b4bc" stroke-width="0.7"/>
<text class="ct" transform="translate(426.68 350.32) rotate(0.03)" text-anchor="middle">Control</text>
<text class="ct" transform="translate(466.61 350.32) rotate(0.03)" text-anchor="middle">IC20</text>
<text class="ct" transform="translate(506.54 350.32) rotate(0.03)" text-anchor="middle">IC50</text>
<text class="yl" transform="translate(387.9 331.1) rotate(-90)" textLength="63.6" lengthAdjust="spacingAndGlyphs">pmol MPP/mg prot·min</text>
</g>
<g>
<line x1="64.74" y1="379.58" x2="184.1" y2="379.58" stroke="#bcbcc0" stroke-width="0.6"/>
<line x1="62.54" y1="379.58" x2="64.44" y2="379.58" stroke="#a0a0a0" stroke-width="0.7"/>
<text class="tk" transform="translate(58.34 381.83) rotate(0.03)" text-anchor="end">6</text>
<line x1="64.74" y1="407.35" x2="184.1" y2="407.35" stroke="#bcbcc0" stroke-width="0.6"/>
<line x1="62.54" y1="407.35" x2="64.44" y2="407.35" stroke="#a0a0a0" stroke-width="0.7"/>
<text class="tk" transform="translate(58.34 409.6) rotate(0.03)" text-anchor="end">4</text>
<line x1="64.74" y1="435.12" x2="184.1" y2="435.12" stroke="#bcbcc0" stroke-width="0.6"/>
<line x1="62.54" y1="435.12" x2="64.44" y2="435.12" stroke="#a0a0a0" stroke-width="0.7"/>
<text class="tk" transform="translate(58.34 437.37) rotate(0.03)" text-anchor="end">2</text>
<line x1="62.54" y1="462.89" x2="64.44" y2="462.89" stroke="#a0a0a0" stroke-width="0.7"/>
<text class="tk" transform="translate(58.34 465.14) rotate(0.03)" text-anchor="end">0</text>
<rect x="71.52" y="422.74" width="8.8" height="40.15" fill="#4c4b4d"/>
<path d="M75.92 422.74V414.46M73.92 414.46H77.92" stroke="#332a2a" stroke-width="0.85" fill="none"/>
<rect x="80.32" y="453.86" width="8.8" height="9.03" fill="#88888c"/>
<path d="M84.72 453.86V449.09M82.72 449.09H86.72" stroke="#332a2a" stroke-width="0.85" fill="none"/>
<rect x="89.12" y="455.37" width="8.8" height="7.53" fill="#c8c8ca"/>
<path d="M93.52 455.37V449.09M91.52 449.09H95.52" stroke="#332a2a" stroke-width="0.85" fill="none"/>
<rect x="111.67" y="411.95" width="8.8" height="50.94" fill="#4c4b4d"/>
<path d="M116.07 411.95V408.94M114.07 408.94H118.07" stroke="#332a2a" stroke-width="0.85" fill="none"/>
<rect x="120.47" y="452.1" width="8.8" height="10.79" fill="#88888c"/>
<path d="M124.87 452.1V448.84M122.87 448.84H126.87" stroke="#332a2a" stroke-width="0.85" fill="none"/>
<rect x="129.27" y="447.08" width="8.8" height="15.81" fill="#c8c8ca"/>
<path d="M133.67 447.08V443.32M131.67 443.32H135.67" stroke="#332a2a" stroke-width="0.85" fill="none"/>
<rect x="150.69" y="394.64" width="8.8" height="68.26" fill="#4c4b4d"/>
<path d="M155.09 394.64V391.38M153.09 391.38H157.09" stroke="#332a2a" stroke-width="0.85" fill="none"/>
<rect x="159.49" y="440.06" width="8.8" height="22.84" fill="#88888c"/>
<path d="M163.89 440.06V437.55M161.89 437.55H165.89" stroke="#332a2a" stroke-width="0.85" fill="none"/>
<rect x="168.29" y="435.29" width="8.8" height="27.6" fill="#c8c8ca"/>
<path d="M172.69 435.29V431.78M170.69 431.78H174.69" stroke="#332a2a" stroke-width="0.85" fill="none"/>
<line x1="64.74" y1="379.58" x2="64.74" y2="462.89" stroke="#cbcbcf" stroke-width="1"/>
<line x1="64.74" y1="462.89" x2="184.1" y2="462.89" stroke="#b4b4bc" stroke-width="0.8"/>
<line x1="64.74" y1="462.89" x2="64.74" y2="464.89" stroke="#b4b4bc" stroke-width="0.7"/>
<line x1="104.53" y1="462.89" x2="104.53" y2="464.89" stroke="#b4b4bc" stroke-width="0.7"/>
<line x1="144.31" y1="462.89" x2="144.31" y2="464.89" stroke="#b4b4bc" stroke-width="0.7"/>
<line x1="184.1" y1="462.89" x2="184.1" y2="464.89" stroke="#b4b4bc" stroke-width="0.7"/>
<text class="ct" transform="translate(84.64 474.09) rotate(0.03)" text-anchor="middle">Control</text>
<text class="ct" transform="translate(124.42 474.09) rotate(0.03)" text-anchor="middle">IC20</text>
<text class="ct" transform="translate(164.21 474.09) rotate(0.03)" text-anchor="middle">IC50</text>
<text class="yl" transform="translate(47.3 456.6) rotate(-90)" textLength="63.2" lengthAdjust="spacingAndGlyphs">pmol MPP/mg prot·min</text>
</g>
<g>
<line x1="229.11" y1="379.58" x2="349" y2="379.58" stroke="#bcbcc0" stroke-width="0.6"/>
<line x1="226.91" y1="379.58" x2="228.81" y2="379.58" stroke="#a0a0a0" stroke-width="0.7"/>
<text class="tk" transform="translate(222.71 381.83) rotate(0.03)" text-anchor="end">12</text>
<line x1="229.11" y1="407.35" x2="349" y2="407.35" stroke="#bcbcc0" stroke-width="0.6"/>
<line x1="226.91" y1="407.35" x2="228.81" y2="407.35" stroke="#a0a0a0" stroke-width="0.7"/>
<text class="tk" transform="translate(222.71 409.6) rotate(0.03)" text-anchor="end">8</text>
<line x1="229.11" y1="435.12" x2="349" y2="435.12" stroke="#bcbcc0" stroke-width="0.6"/>
<line x1="226.91" y1="435.12" x2="228.81" y2="435.12" stroke="#a0a0a0" stroke-width="0.7"/>
<text class="tk" transform="translate(222.71 437.37) rotate(0.03)" text-anchor="end">4</text>
<line x1="226.91" y1="462.89" x2="228.81" y2="462.89" stroke="#a0a0a0" stroke-width="0.7"/>
<text class="tk" transform="translate(222.71 465.14) rotate(0.03)" text-anchor="end">0</text>
<rect x="236.38" y="410.95" width="8.8" height="51.94" fill="#4c4b4d"/>
<path d="M240.78 410.95V407.69M238.78 407.69H242.78" stroke="#332a2a" stroke-width="0.85" fill="none"/>
<rect x="245.18" y="425" width="8.8" height="37.89" fill="#88888c"/>
<path d="M249.58 425V421.24M247.58 421.24H251.58" stroke="#332a2a" stroke-width="0.85" fill="none"/>
<rect x="253.98" y="435.29" width="8.8" height="27.6" fill="#c8c8ca"/>
<path d="M258.38 435.29V430.77M256.38 430.77H260.38" stroke="#332a2a" stroke-width="0.85" fill="none"/>
<rect x="276.28" y="407.69" width="8.8" height="55.21" fill="#4c4b4d"/>
<path d="M280.68 407.69V399.41M278.68 399.41H282.68" stroke="#332a2a" stroke-width="0.85" fill="none"/>
<rect x="285.08" y="432.03" width="8.8" height="30.87" fill="#88888c"/>
<path d="M289.48 432.03V426.26M287.48 426.26H291.48" stroke="#332a2a" stroke-width="0.85" fill="none"/>
<rect x="293.88" y="437.8" width="8.8" height="25.09" fill="#c8c8ca"/>
<path d="M298.28 437.8V431.27M296.28 431.27H300.28" stroke="#332a2a" stroke-width="0.85" fill="none"/>
<rect x="316.18" y="410.45" width="8.8" height="52.45" fill="#4c4b4d"/>
<path d="M320.58 410.45V409.69M318.58 409.69H322.58" stroke="#332a2a" stroke-width="0.85" fill="none"/>
<rect x="324.98" y="432.53" width="8.8" height="30.36" fill="#88888c"/>
<path d="M329.38 432.53V428.01M327.38 428.01H331.38" stroke="#332a2a" stroke-width="0.85" fill="none"/>
<rect x="333.78" y="440.81" width="8.8" height="22.08" fill="#c8c8ca"/>
<path d="M338.18 440.81V436.29M336.18 436.29H340.18" stroke="#332a2a" stroke-width="0.85" fill="none"/>
<line x1="229.11" y1="379.58" x2="229.11" y2="462.89" stroke="#cbcbcf" stroke-width="1"/>
<line x1="229.11" y1="462.89" x2="349" y2="462.89" stroke="#b4b4bc" stroke-width="0.8"/>
<line x1="229.11" y1="462.89" x2="229.11" y2="464.89" stroke="#b4b4bc" stroke-width="0.7"/>
<line x1="269.07" y1="462.89" x2="269.07" y2="464.89" stroke="#b4b4bc" stroke-width="0.7"/>
<line x1="309.04" y1="462.89" x2="309.04" y2="464.89" stroke="#b4b4bc" stroke-width="0.7"/>
<line x1="349" y1="462.89" x2="349" y2="464.89" stroke="#b4b4bc" stroke-width="0.7"/>
<text class="ct" transform="translate(249.09 474.09) rotate(0.03)" text-anchor="middle">Control</text>
<text class="ct" transform="translate(289.05 474.09) rotate(0.03)" text-anchor="middle">IC20</text>
<text class="ct" transform="translate(329.02 474.09) rotate(0.03)" text-anchor="middle">IC50</text>
<text class="yl" transform="translate(211.4 456.6) rotate(-90)" textLength="63.2" lengthAdjust="spacingAndGlyphs">pmol MPP/mg prot·min</text>
</g>
<g>
<line x1="406.31" y1="379.58" x2="525.8" y2="379.58" stroke="#bcbcc0" stroke-width="0.6"/>
<line x1="404.11" y1="379.58" x2="406.01" y2="379.58" stroke="#a0a0a0" stroke-width="0.7"/>
<text class="tk" transform="translate(399.91 381.83) rotate(0.03)" text-anchor="end">12</text>
<line x1="406.31" y1="407.35" x2="525.8" y2="407.35" stroke="#bcbcc0" stroke-width="0.6"/>
<line x1="404.11" y1="407.35" x2="406.01" y2="407.35" stroke="#a0a0a0" stroke-width="0.7"/>
<text class="tk" transform="translate(399.91 409.6) rotate(0.03)" text-anchor="end">8</text>
<line x1="406.31" y1="435.12" x2="525.8" y2="435.12" stroke="#bcbcc0" stroke-width="0.6"/>
<line x1="404.11" y1="435.12" x2="406.01" y2="435.12" stroke="#a0a0a0" stroke-width="0.7"/>
<text class="tk" transform="translate(399.91 437.37) rotate(0.03)" text-anchor="end">4</text>
<line x1="404.11" y1="462.89" x2="406.01" y2="462.89" stroke="#a0a0a0" stroke-width="0.7"/>
<text class="tk" transform="translate(399.91 465.14) rotate(0.03)" text-anchor="end">0</text>
<rect x="413.09" y="438.8" width="8.8" height="24.09" fill="#4c4b4d"/>
<path d="M417.49 438.8V435.54M415.49 435.54H419.49" stroke="#332a2a" stroke-width="0.85" fill="none"/>
<rect x="421.89" y="458.13" width="8.8" height="4.77" fill="#88888c"/>
<path d="M426.29 458.13V455.37M424.29 455.37H428.29" stroke="#332a2a" stroke-width="0.85" fill="none"/>
<rect x="430.69" y="458.63" width="8.8" height="4.27" fill="#c8c8ca"/>
<path d="M435.09 458.63V456.87M433.09 456.87H437.09" stroke="#332a2a" stroke-width="0.85" fill="none"/>
<rect x="453.24" y="427.01" width="8.8" height="35.88" fill="#4c4b4d"/>
<path d="M457.64 427.01V421.74M455.64 421.74H459.64" stroke="#332a2a" stroke-width="0.85" fill="none"/>
<rect x="462.04" y="450.1" width="8.8" height="12.8" fill="#88888c"/>
<path d="M466.44 450.1V445.83M464.44 445.83H468.44" stroke="#332a2a" stroke-width="0.85" fill="none"/>
<rect x="470.84" y="449.09" width="8.8" height="13.8" fill="#c8c8ca"/>
<path d="M475.24 449.09V444.07M473.24 444.07H477.24" stroke="#332a2a" stroke-width="0.85" fill="none"/>
<rect x="492.76" y="391.88" width="8.8" height="71.02" fill="#4c4b4d"/>
<path d="M497.16 391.88V382.59M495.16 382.59H499.16" stroke="#332a2a" stroke-width="0.85" fill="none"/>
<rect x="501.56" y="437.3" width="8.8" height="25.6" fill="#88888c"/>
<path d="M505.96 437.3V423.24M503.96 423.24H507.96" stroke="#332a2a" stroke-width="0.85" fill="none"/>
<rect x="510.36" y="435.29" width="8.8" height="27.6" fill="#c8c8ca"/>
<path d="M514.76 435.29V430.77M512.76 430.77H516.76" stroke="#332a2a" stroke-width="0.85" fill="none"/>
<line x1="406.31" y1="379.58" x2="406.31" y2="462.89" stroke="#cbcbcf" stroke-width="1"/>
<line x1="406.31" y1="462.89" x2="525.8" y2="462.89" stroke="#b4b4bc" stroke-width="0.8"/>
<line x1="406.31" y1="462.89" x2="406.31" y2="464.89" stroke="#b4b4bc" stroke-width="0.7"/>
<line x1="446.14" y1="462.89" x2="446.14" y2="464.89" stroke="#b4b4bc" stroke-width="0.7"/>
<line x1="485.97" y1="462.89" x2="485.97" y2="464.89" stroke="#b4b4bc" stroke-width="0.7"/>
<line x1="525.8" y1="462.89" x2="525.8" y2="464.89" stroke="#b4b4bc" stroke-width="0.7"/>
<text class="ct" transform="translate(426.23 474.09) rotate(0.03)" text-anchor="middle">Control</text>
<text class="ct" transform="translate(466.06 474.09) rotate(0.03)" text-anchor="middle">IC20</text>
<text class="ct" transform="translate(505.89 474.09) rotate(0.03)" text-anchor="middle">IC50</text>
<text class="yl" transform="translate(388.4 456.6) rotate(-90)" textLength="63.6" lengthAdjust="spacingAndGlyphs">pmol MPP/mg prot·min</text>
</g>
<text class="st" transform="translate(515.55 313.41) rotate(0.03)" text-anchor="middle">*</text>
<text class="st" transform="translate(163.04 434.67) rotate(0.03)" text-anchor="middle">*</text>
<text class="st" transform="translate(172.32 431.91) rotate(0.03)" text-anchor="middle">*</text>
<text class="st" transform="translate(465.73 446.21) rotate(0.03)" text-anchor="middle">*</text>
<text class="st" transform="translate(475.27 443.96) rotate(0.03)" text-anchor="middle">*</text>
<text class="st" transform="translate(514.54 430.41) rotate(0.03)" text-anchor="middle">*</text>
<text class="ti" x="112.95" y="8" textLength="22.7" lengthAdjust="spacingAndGlyphs">EGI-1</text>
<text class="ti" x="280.4" y="8" textLength="23.2" lengthAdjust="spacingAndGlyphs">TFK-1</text>
<text class="ti" x="449.3" y="8" textLength="32" lengthAdjust="spacingAndGlyphs">BCLC12</text>
<text class="pl" x="3.2" y="18">a.</text>
<text class="pl" x="-0.2" y="133.8">b.</text>
<text class="pl" x="0.3" y="250.8">c.</text>
<text class="pl" x="3.7" y="367.2">d.</text>
<line x1="584.7" y1="16.3" x2="584.7" y2="216.6" stroke="#9c9ca4" stroke-width="1.6"/>
<line x1="584.7" y1="258.8" x2="584.7" y2="458.9" stroke="#9c9ca4" stroke-width="1.6"/>
<text class="hr" transform="translate(572.2 58.5) rotate(90)" text-anchor="middle">48h</text>
<text class="hr" transform="translate(572.2 174.8) rotate(90)" text-anchor="middle">72h</text>
<text class="hr" transform="translate(572.2 298.5) rotate(90)" text-anchor="middle">48h</text>
<text class="hr" transform="translate(572.2 418.9) rotate(90)" text-anchor="middle">72h</text>
<text class="hg" transform="translate(593 116.7) rotate(90)" text-anchor="middle">hCNTs</text>
<text class="hg" transform="translate(593 358.6) rotate(90)" text-anchor="middle">hOCTs</text>
<rect x="535.4" y="101.7" width="6.7" height="6.6" fill="#4c4b4d"/>
<text class="lg" x="545.4" y="107.7" textLength="9.2" lengthAdjust="spacingAndGlyphs">Na</text>
<rect x="535.4" y="111.75" width="6.7" height="6.6" fill="#88888c"/>
<text class="lg" x="545.4" y="117.75" textLength="13.2" lengthAdjust="spacingAndGlyphs">Cho</text>
<rect x="535.4" y="121.8" width="6.7" height="6.6" fill="#c8c8ca"/>
<text class="lg" x="545.4" y="127.8" textLength="17.4" lengthAdjust="spacingAndGlyphs">CNTs</text>
<rect x="535.9" y="346.4" width="6.7" height="6.6" fill="#4c4b4d"/>
<text class="lg" x="545.9" y="352.4" textLength="17.9" lengthAdjust="spacingAndGlyphs">Total</text>
<rect x="535.9" y="356.45" width="6.7" height="6.6" fill="#88888c"/>
<text class="lg" x="545.9" y="362.45" textLength="17.6" lengthAdjust="spacingAndGlyphs">OCTs</text>
<rect x="535.9" y="366.5" width="6.7" height="6.6" fill="#c8c8ca"/>
<text class="lg" x="545.9" y="372.5" textLength="18.4" lengthAdjust="spacingAndGlyphs">OCT1</text>
</svg>
</body>
</html>
